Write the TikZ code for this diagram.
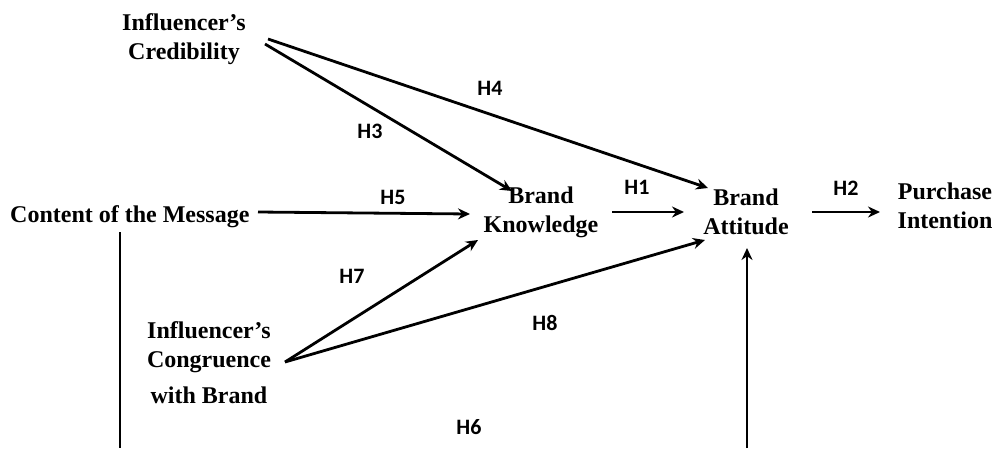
\documentclass[tikz,border=0pt]{standalone}
\usepackage{fontspec}
\setmainfont{Liberation Serif}
\newfontfamily\hfont{Carlito}
\usetikzlibrary{arrows.meta}
\begin{document}
\begin{tikzpicture}[x=1pt,y=-1pt,
  concept/.style={font=\fontsize{24}{29}\selectfont\bfseries, align=center, inner sep=0pt},
  hlab/.style={font=\hfont\fontsize{22}{24}\selectfont\bfseries, inner sep=0pt},
  link/.style={line width=2.8pt, -{Stealth[length=12pt,width=11pt]}},
  plain/.style={line width=2.8pt}]
\useasboundingbox (0,0) rectangle (995,448);
% concepts
\node[concept] (cred) at (184,39) {Influencer’s\\Credibility};
\node[concept, anchor=west] (cm) at (10,217) {Content of the Message};
\node[concept] (bk) at (541,212) {Brand\\Knowledge};
\node[concept] (ba) at (746,212) {Brand\\Attitude};
\node[concept] (pi) at (945,206) {Purchase\\Intention};
\node[concept] (cong) at (209,363) {Influencer’s\\Congruence\\[7pt]with Brand};
% connector end points
\coordinate (credA) at (268,39);
\coordinate (credB) at (265,44);
\coordinate (bkTop) at (512,191);
\coordinate (baTopL) at (708,188);
\coordinate (cmE) at (258,212);
\coordinate (bkW) at (470,214);
\coordinate (bkE) at (612,212);
\coordinate (baW) at (684,212);
\coordinate (baE) at (812,212);
\coordinate (piW) at (880,212);
\coordinate (congE) at (285,362);
\coordinate (bkBot) at (478,240);
\coordinate (baBotL) at (705,240);
\coordinate (cmDown) at (120,232);
\coordinate (bottomL) at (120,448);
\coordinate (bottomR) at (747,448);
\coordinate (baBot) at (747,248);
% connectors
\draw[link] (credB) -- (bkTop);
\draw[link] (credA) -- (baTopL);
\draw[link] (cmE) -- (bkW);
\draw[link] (bkE) -- (baW);
\draw[link] (baE) -- (piW);
\draw[link] (congE) -- (bkBot);
\draw[link] (congE) -- (baBotL);
\draw[plain] (cmDown) -- (bottomL);
\draw[link] (bottomR) -- (baBot);
% labels
\node[hlab] (h1) at (637,187) {H1};
\node[hlab] (h2) at (846,188) {H2};
\node[hlab] (h3) at (370,131) {H3};
\node[hlab] (h4) at (490,88) {H4};
\node[hlab] (h5) at (393,197) {H5};
\node[hlab] (h6) at (469,427) {H6};
\node[hlab] (h7) at (352,276) {H7};
\node[hlab] (h8) at (545,323) {H8};
\end{tikzpicture}
\end{document}
